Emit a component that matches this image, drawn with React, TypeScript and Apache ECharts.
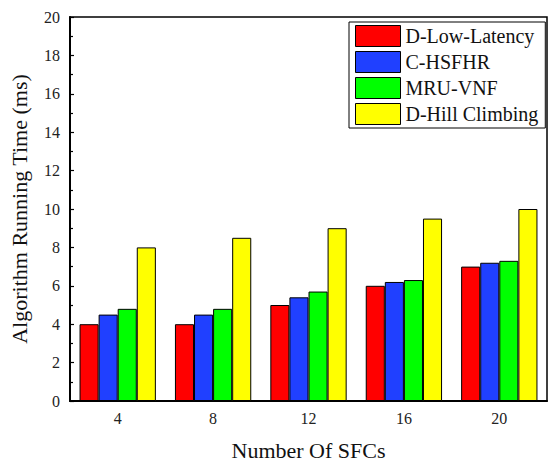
import React, { useEffect, useRef } from "react";
import * as echarts from "echarts";

const categories = ["4", "8", "12", "16", "20"];
const seriesNames = ["D-Low-Latency", "C-HSFHR", "MRU-VNF", "D-Hill Climbing"];
const dLowLatency = [4, 4, 5, 6, 7];
const cHsfhr = [4.5, 4.5, 5.4, 6.2, 7.2];
const mruVnf = [4.8, 4.8, 5.7, 6.3, 7.3];
const dHillClimbing = [8, 8.5, 9, 9.5, 10];
const colors = ["#ff0000", "#2040ff", "#00ff00", "#ffff00"];

const FONT = "Liberation Serif";

export default function App() {
  const ref = useRef<HTMLDivElement>(null);
  useEffect(() => {
    if (!ref.current) return;
    const chart = echarts.init(ref.current, null, { renderer: "svg" });
    const allData = [dLowLatency, cHsfhr, mruVnf, dHillClimbing];
    chart.setOption({
      animation: false,
      backgroundColor: "#fff",
      textStyle: { fontFamily: FONT },
      grid: {
        left: 65,
        right: 3,
        top: 17,
        bottom: 60,
        show: true,
        borderColor: "#000",
        borderWidth: 1.5,
        backgroundColor: "transparent",
      },
      legend: {
        orient: "vertical",
        left: 349,
        top: 22,
        padding: [3, 7, 3, 6],
        itemGap: 4,
        itemWidth: 45,
        itemHeight: 21,
        itemStyle: { borderColor: "#000", borderWidth: 1 },
        borderColor: "#000",
        borderWidth: 1,
        backgroundColor: "#fff",
        textStyle: { fontFamily: FONT, fontSize: 20, color: "#111" },
        data: seriesNames,
        icon: "rect",
      },
      xAxis: {
        type: "category",
        data: categories,
        name: "Number Of SFCs",
        nameLocation: "middle",
        nameGap: 38,
        nameTextStyle: { fontFamily: FONT, fontSize: 22, color: "#111" },
        axisLine: { lineStyle: { color: "#000", width: 2 } },
        axisTick: { inside: true, length: 3, lineStyle: { color: "#000", width: 1.5 } },
        axisLabel: { fontFamily: FONT, fontSize: 16, color: "#222", margin: 9 },
        splitLine: { show: false },
      },
      yAxis: {
        type: "value",
        min: 0,
        max: 20,
        interval: 2,
        name: "Algorithm Running Time (ms)",
        nameLocation: "middle",
        nameGap: 40,
        nameTextStyle: { fontFamily: FONT, fontSize: 22, color: "#111" },
        axisLine: { show: true, lineStyle: { color: "#000", width: 2 } },
        axisTick: { show: true, inside: true, length: 4, lineStyle: { color: "#000", width: 1.2 } },
        minorTick: { show: true, splitNumber: 2, length: 3, lineStyle: { color: "#000", width: 1.2 } },
        axisLabel: { fontFamily: FONT, fontSize: 16, color: "#222", margin: 10 },
        splitLine: { show: false },
      },
      series: seriesNames.map((name, i) => ({
        name,
        type: "bar",
        data: allData[i],
        barGap: "0%",
        barCategoryGap: "20%",
        itemStyle: { color: colors[i], borderColor: "#000", borderWidth: 1 },
      })),
    });
    return () => chart.dispose();
  }, []);
  return <div ref={ref} style={{ width: 550, height: 466, position: "absolute", left: 0, top: 0 }} />;
}
